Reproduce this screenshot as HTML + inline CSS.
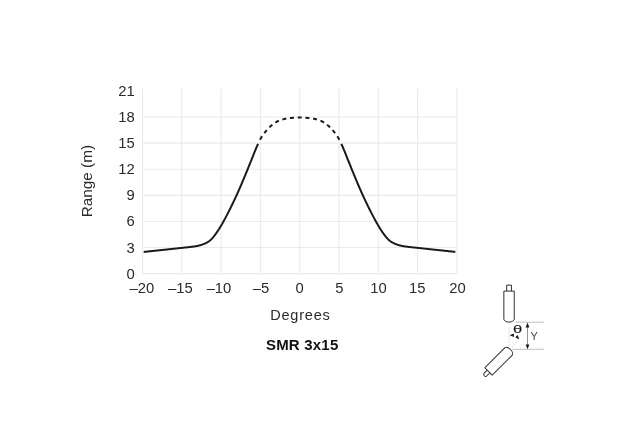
<!DOCTYPE html>
<html><head><meta charset="utf-8"><style>
html,body{margin:0;padding:0;background:#fff;}
body{width:631px;height:444px;overflow:hidden;position:relative;}
svg{position:absolute;left:0;top:0;will-change:transform;}
text{font-family:"Liberation Sans",Arial,sans-serif;}
</style></head><body>
<svg width="631" height="444" viewBox="0 0 631 444">
<rect width="631" height="444" fill="#fff"/>
<g stroke="#eaeaea" stroke-width="1.1" fill="none">
<line x1="142.50" y1="88.5" x2="142.50" y2="273.65"/>
<line x1="181.80" y1="88.5" x2="181.80" y2="273.65"/>
<line x1="221.10" y1="88.5" x2="221.10" y2="273.65"/>
<line x1="260.40" y1="88.5" x2="260.40" y2="273.65"/>
<line x1="299.70" y1="88.5" x2="299.70" y2="273.65"/>
<line x1="339.00" y1="88.5" x2="339.00" y2="273.65"/>
<line x1="378.30" y1="88.5" x2="378.30" y2="273.65"/>
<line x1="417.60" y1="88.5" x2="417.60" y2="273.65"/>
<line x1="456.90" y1="88.5" x2="456.90" y2="273.65"/>
<line x1="142.50" y1="273.65" x2="456.90" y2="273.65"/>
<line x1="142.50" y1="247.55" x2="456.90" y2="247.55"/>
<line x1="142.50" y1="221.45" x2="456.90" y2="221.45"/>
<line x1="142.50" y1="195.35" x2="456.90" y2="195.35"/>
<line x1="142.50" y1="169.25" x2="456.90" y2="169.25"/>
<line x1="142.50" y1="143.15" x2="456.90" y2="143.15"/>
<line x1="142.50" y1="117.05" x2="456.90" y2="117.05"/>
</g>
<g fill="none" stroke="#1a1a1a" stroke-width="2" stroke-linejoin="round">
<path d="M143.68,251.94 L144.07,251.90 L144.47,251.86 L144.86,251.82 L145.25,251.77 L145.64,251.73 L146.04,251.69 L146.43,251.65 L146.82,251.61 L147.22,251.57 L147.61,251.52 L148.00,251.48 L148.40,251.44 L148.79,251.40 L149.18,251.36 L149.57,251.32 L149.97,251.28 L150.36,251.23 L150.75,251.19 L151.15,251.15 L151.54,251.11 L151.93,251.07 L152.33,251.03 L152.72,250.98 L153.11,250.94 L153.50,250.90 L153.90,250.86 L154.29,250.82 L154.68,250.78 L155.08,250.74 L155.47,250.69 L155.86,250.65 L156.26,250.61 L156.65,250.57 L157.04,250.53 L157.43,250.49 L157.83,250.45 L158.22,250.40 L158.61,250.36 L159.01,250.32 L159.40,250.28 L159.79,250.24 L160.19,250.20 L160.58,250.15 L160.97,250.11 L161.36,250.07 L161.76,250.03 L162.15,249.99 L162.54,249.94 L162.94,249.90 L163.33,249.86 L163.72,249.82 L164.12,249.77 L164.51,249.73 L164.90,249.69 L165.29,249.65 L165.69,249.61 L166.08,249.56 L166.47,249.52 L166.87,249.48 L167.26,249.44 L167.65,249.39 L168.05,249.35 L168.44,249.31 L168.83,249.27 L169.22,249.22 L169.62,249.18 L170.01,249.14 L170.40,249.10 L170.80,249.05 L171.19,249.01 L171.58,248.97 L171.98,248.93 L172.37,248.88 L172.76,248.84 L173.15,248.80 L173.55,248.76 L173.94,248.71 L174.33,248.67 L174.73,248.63 L175.12,248.59 L175.51,248.54 L175.91,248.50 L176.30,248.46 L176.69,248.42 L177.08,248.38 L177.48,248.33 L177.87,248.29 L178.26,248.25 L178.66,248.21 L179.05,248.17 L179.44,248.13 L179.84,248.08 L180.23,248.04 L180.62,248.00 L181.01,247.96 L181.41,247.92 L181.80,247.88 L182.19,247.84 L182.59,247.80 L182.98,247.76 L183.37,247.72 L183.77,247.67 L184.16,247.63 L184.55,247.59 L184.94,247.55 L185.34,247.51 L185.73,247.47 L186.12,247.42 L186.52,247.38 L186.91,247.34 L187.30,247.29 L187.70,247.25 L188.09,247.21 L188.48,247.16 L188.87,247.12 L189.27,247.07 L189.66,247.03 L190.05,246.98 L190.45,246.94 L190.84,246.89 L191.23,246.85 L191.63,246.80 L192.02,246.75 L192.41,246.70 L192.80,246.66 L193.20,246.61 L193.59,246.56 L193.98,246.50 L194.38,246.45 L194.77,246.39 L195.16,246.34 L195.56,246.28 L195.95,246.21 L196.34,246.14 L196.73,246.07 L197.13,246.00 L197.52,245.92 L197.91,245.83 L198.31,245.74 L198.70,245.65 L199.09,245.55 L199.49,245.44 L199.88,245.33 L200.27,245.22 L200.66,245.10 L201.06,244.97 L201.45,244.84 L201.84,244.71 L202.24,244.57 L202.63,244.43 L203.02,244.28 L203.42,244.13 L203.81,243.98 L204.20,243.82 L204.59,243.65 L204.99,243.48 L205.38,243.30 L205.77,243.12 L206.17,242.92 L206.56,242.72 L206.95,242.51 L207.35,242.28 L207.74,242.05 L208.13,241.80 L208.52,241.54 L208.92,241.27 L209.31,240.98 L209.70,240.67 L210.10,240.35 L210.49,240.01 L210.88,239.66 L211.28,239.28 L211.67,238.89 L212.06,238.48 L212.45,238.06 L212.85,237.61 L213.24,237.15 L213.63,236.67 L214.03,236.18 L214.42,235.67 L214.81,235.15 L215.21,234.62 L215.60,234.07 L215.99,233.52 L216.38,232.96 L216.78,232.40 L217.17,231.82 L217.56,231.24 L217.96,230.66 L218.35,230.06 L218.74,229.46 L219.14,228.86 L219.53,228.24 L219.92,227.61 L220.31,226.97 L220.71,226.32 L221.10,225.67 L221.49,225.00 L221.89,224.32 L222.28,223.63 L222.67,222.94 L223.07,222.24 L223.46,221.53 L223.85,220.81 L224.24,220.09 L224.64,219.36 L225.03,218.63 L225.42,217.89 L225.82,217.15 L226.21,216.40 L226.60,215.65 L227.00,214.90 L227.39,214.14 L227.78,213.38 L228.17,212.62 L228.57,211.85 L228.96,211.08 L229.35,210.30 L229.75,209.52 L230.14,208.73 L230.53,207.94 L230.93,207.15 L231.32,206.36 L231.71,205.56 L232.10,204.75 L232.50,203.94 L232.89,203.13 L233.28,202.31 L233.68,201.49 L234.07,200.67 L234.46,199.84 L234.86,199.00 L235.25,198.17 L235.64,197.32 L236.03,196.47 L236.43,195.62 L236.82,194.76 L237.21,193.89 L237.61,193.02 L238.00,192.14 L238.39,191.26 L238.79,190.37 L239.18,189.47 L239.57,188.57 L239.96,187.66 L240.36,186.75 L240.75,185.83 L241.14,184.91 L241.54,183.99 L241.93,183.06 L242.32,182.12 L242.72,181.18 L243.11,180.24 L243.50,179.30 L243.89,178.36 L244.29,177.41 L244.68,176.46 L245.07,175.51 L245.47,174.56 L245.86,173.61 L246.25,172.66 L246.65,171.70 L247.04,170.75 L247.43,169.79 L247.82,168.83 L248.22,167.86 L248.61,166.89 L249.00,165.92 L249.40,164.95 L249.79,163.97 L250.18,162.99 L250.58,162.00 L250.97,161.02 L251.36,160.03 L251.75,159.04 L252.15,158.05 L252.54,157.07 L252.93,156.08 L253.33,155.10 L253.72,154.12 L254.11,153.14 L254.51,152.17 L254.90,151.21 L255.29,150.26 L255.68,149.31 L256.08,148.37 L256.47,147.44 L256.86,146.52 L257.26,145.62 L257.65,144.73 L258.04,143.86"/>
<path d="M341.36,143.86 L341.75,144.73 L342.14,145.62 L342.54,146.52 L342.93,147.44 L343.32,148.37 L343.72,149.31 L344.11,150.26 L344.50,151.21 L344.90,152.17 L345.29,153.14 L345.68,154.12 L346.07,155.10 L346.47,156.08 L346.86,157.07 L347.25,158.05 L347.65,159.04 L348.04,160.03 L348.43,161.02 L348.83,162.00 L349.22,162.99 L349.61,163.97 L350.00,164.95 L350.40,165.92 L350.79,166.89 L351.18,167.86 L351.58,168.83 L351.97,169.79 L352.36,170.75 L352.76,171.70 L353.15,172.66 L353.54,173.61 L353.93,174.56 L354.33,175.51 L354.72,176.46 L355.11,177.41 L355.51,178.36 L355.90,179.30 L356.29,180.24 L356.69,181.18 L357.08,182.12 L357.47,183.06 L357.86,183.99 L358.26,184.91 L358.65,185.83 L359.04,186.75 L359.44,187.66 L359.83,188.57 L360.22,189.47 L360.62,190.37 L361.01,191.26 L361.40,192.14 L361.79,193.02 L362.19,193.89 L362.58,194.76 L362.97,195.62 L363.37,196.47 L363.76,197.32 L364.15,198.17 L364.55,199.00 L364.94,199.84 L365.33,200.67 L365.72,201.49 L366.12,202.31 L366.51,203.13 L366.90,203.94 L367.30,204.75 L367.69,205.56 L368.08,206.36 L368.48,207.15 L368.87,207.94 L369.26,208.73 L369.65,209.52 L370.05,210.30 L370.44,211.08 L370.83,211.85 L371.23,212.62 L371.62,213.38 L372.01,214.14 L372.41,214.90 L372.80,215.65 L373.19,216.40 L373.58,217.15 L373.98,217.89 L374.37,218.63 L374.76,219.36 L375.16,220.09 L375.55,220.81 L375.94,221.53 L376.34,222.24 L376.73,222.94 L377.12,223.63 L377.51,224.32 L377.91,225.00 L378.30,225.67 L378.69,226.32 L379.09,226.97 L379.48,227.61 L379.87,228.24 L380.27,228.86 L380.66,229.46 L381.05,230.06 L381.44,230.66 L381.84,231.24 L382.23,231.82 L382.62,232.40 L383.02,232.96 L383.41,233.52 L383.80,234.07 L384.20,234.62 L384.59,235.15 L384.98,235.67 L385.37,236.18 L385.77,236.67 L386.16,237.15 L386.55,237.61 L386.95,238.06 L387.34,238.48 L387.73,238.89 L388.13,239.28 L388.52,239.66 L388.91,240.01 L389.30,240.35 L389.70,240.67 L390.09,240.98 L390.48,241.27 L390.88,241.54 L391.27,241.80 L391.66,242.05 L392.06,242.28 L392.45,242.51 L392.84,242.72 L393.23,242.92 L393.63,243.12 L394.02,243.30 L394.41,243.48 L394.81,243.65 L395.20,243.82 L395.59,243.98 L395.99,244.13 L396.38,244.28 L396.77,244.43 L397.16,244.57 L397.56,244.71 L397.95,244.84 L398.34,244.97 L398.74,245.10 L399.13,245.22 L399.52,245.33 L399.92,245.44 L400.31,245.55 L400.70,245.65 L401.09,245.74 L401.49,245.83 L401.88,245.92 L402.27,246.00 L402.67,246.07 L403.06,246.14 L403.45,246.21 L403.85,246.28 L404.24,246.34 L404.63,246.39 L405.02,246.45 L405.42,246.50 L405.81,246.56 L406.20,246.61 L406.60,246.66 L406.99,246.70 L407.38,246.75 L407.78,246.80 L408.17,246.85 L408.56,246.89 L408.95,246.94 L409.35,246.98 L409.74,247.03 L410.13,247.07 L410.53,247.12 L410.92,247.16 L411.31,247.21 L411.71,247.25 L412.10,247.29 L412.49,247.34 L412.88,247.38 L413.28,247.42 L413.67,247.47 L414.06,247.51 L414.46,247.55 L414.85,247.59 L415.24,247.63 L415.64,247.67 L416.03,247.72 L416.42,247.76 L416.81,247.80 L417.21,247.84 L417.60,247.88 L417.99,247.92 L418.39,247.96 L418.78,248.00 L419.17,248.04 L419.57,248.08 L419.96,248.13 L420.35,248.17 L420.74,248.21 L421.14,248.25 L421.53,248.29 L421.92,248.33 L422.32,248.38 L422.71,248.42 L423.10,248.46 L423.50,248.50 L423.89,248.54 L424.28,248.59 L424.67,248.63 L425.07,248.67 L425.46,248.71 L425.85,248.76 L426.25,248.80 L426.64,248.84 L427.03,248.88 L427.43,248.93 L427.82,248.97 L428.21,249.01 L428.60,249.05 L429.00,249.10 L429.39,249.14 L429.78,249.18 L430.18,249.22 L430.57,249.27 L430.96,249.31 L431.36,249.35 L431.75,249.39 L432.14,249.44 L432.53,249.48 L432.93,249.52 L433.32,249.56 L433.71,249.61 L434.11,249.65 L434.50,249.69 L434.89,249.73 L435.29,249.77 L435.68,249.82 L436.07,249.86 L436.46,249.90 L436.86,249.94 L437.25,249.99 L437.64,250.03 L438.04,250.07 L438.43,250.11 L438.82,250.15 L439.22,250.20 L439.61,250.24 L440.00,250.28 L440.39,250.32 L440.79,250.36 L441.18,250.40 L441.57,250.45 L441.97,250.49 L442.36,250.53 L442.75,250.57 L443.15,250.61 L443.54,250.65 L443.93,250.69 L444.32,250.74 L444.72,250.78 L445.11,250.82 L445.50,250.86 L445.90,250.90 L446.29,250.94 L446.68,250.98 L447.08,251.03 L447.47,251.07 L447.86,251.11 L448.25,251.15 L448.65,251.19 L449.04,251.23 L449.43,251.28 L449.83,251.32 L450.22,251.36 L450.61,251.40 L451.01,251.44 L451.40,251.48 L451.79,251.52 L452.18,251.57 L452.58,251.61 L452.97,251.65 L453.36,251.69 L453.76,251.73 L454.15,251.77 L454.54,251.82 L454.94,251.86 L455.33,251.90"/>
<path d="M258.44,143.00 L258.83,142.16 L259.22,141.35 L259.61,140.56 L260.01,139.79 L260.40,139.05 L260.79,138.34 L261.19,137.66 L261.58,137.00 L261.97,136.37 L262.37,135.77 L262.76,135.19 L263.15,134.63 L263.54,134.09 L263.94,133.56 L264.33,133.06 L264.72,132.56 L265.12,132.08 L265.51,131.61 L265.90,131.14 L266.30,130.69 L266.69,130.24 L267.08,129.80 L267.47,129.37 L267.87,128.95 L268.26,128.53 L268.65,128.12 L269.05,127.73 L269.44,127.34 L269.83,126.96 L270.23,126.59 L270.62,126.23 L271.01,125.87 L271.40,125.53 L271.80,125.20 L272.19,124.87 L272.58,124.55 L272.98,124.25 L273.37,123.95 L273.76,123.65 L274.16,123.37 L274.55,123.10 L274.94,122.83 L275.33,122.57 L275.73,122.33 L276.12,122.09 L276.51,121.87 L276.91,121.65 L277.30,121.44 L277.69,121.25 L278.09,121.06 L278.48,120.88 L278.87,120.71 L279.26,120.54 L279.66,120.39 L280.05,120.24 L280.44,120.09 L280.84,119.96 L281.23,119.83 L281.62,119.70 L282.02,119.58 L282.41,119.47 L282.80,119.36 L283.19,119.25 L283.59,119.16 L283.98,119.06 L284.37,118.98 L284.77,118.89 L285.16,118.81 L285.55,118.74 L285.95,118.67 L286.34,118.60 L286.73,118.54 L287.12,118.48 L287.52,118.42 L287.91,118.36 L288.30,118.31 L288.70,118.26 L289.09,118.21 L289.48,118.16 L289.88,118.12 L290.27,118.08 L290.66,118.04 L291.05,118.00 L291.45,117.96 L291.84,117.93 L292.23,117.89 L292.63,117.86 L293.02,117.83 L293.41,117.80 L293.81,117.77 L294.20,117.74 L294.59,117.72 L294.98,117.69 L295.38,117.67 L295.77,117.64 L296.16,117.62 L296.56,117.60 L296.95,117.58 L297.34,117.57 L297.74,117.55 L298.13,117.54 L298.52,117.53 L298.91,117.53 L299.31,117.52 L299.70,117.52 L300.09,117.52 L300.49,117.53 L300.88,117.53 L301.27,117.54 L301.67,117.55 L302.06,117.57 L302.45,117.58 L302.84,117.60 L303.24,117.62 L303.63,117.64 L304.02,117.67 L304.42,117.69 L304.81,117.72 L305.20,117.74 L305.60,117.77 L305.99,117.80 L306.38,117.83 L306.77,117.86 L307.17,117.89 L307.56,117.93 L307.95,117.96 L308.35,118.00 L308.74,118.04 L309.13,118.08 L309.53,118.12 L309.92,118.16 L310.31,118.21 L310.70,118.26 L311.10,118.31 L311.49,118.36 L311.88,118.42 L312.28,118.48 L312.67,118.54 L313.06,118.60 L313.46,118.67 L313.85,118.74 L314.24,118.81 L314.63,118.89 L315.03,118.98 L315.42,119.06 L315.81,119.16 L316.21,119.25 L316.60,119.36 L316.99,119.47 L317.39,119.58 L317.78,119.70 L318.17,119.83 L318.56,119.96 L318.96,120.09 L319.35,120.24 L319.74,120.39 L320.14,120.54 L320.53,120.71 L320.92,120.88 L321.32,121.06 L321.71,121.25 L322.10,121.44 L322.49,121.65 L322.89,121.87 L323.28,122.09 L323.67,122.33 L324.07,122.57 L324.46,122.83 L324.85,123.10 L325.25,123.37 L325.64,123.65 L326.03,123.95 L326.42,124.25 L326.82,124.55 L327.21,124.87 L327.60,125.20 L328.00,125.53 L328.39,125.87 L328.78,126.23 L329.18,126.59 L329.57,126.96 L329.96,127.34 L330.35,127.73 L330.75,128.12 L331.14,128.53 L331.53,128.95 L331.93,129.37 L332.32,129.80 L332.71,130.24 L333.11,130.69 L333.50,131.14 L333.89,131.61 L334.28,132.08 L334.68,132.56 L335.07,133.06 L335.46,133.56 L335.86,134.09 L336.25,134.63 L336.64,135.19 L337.04,135.77 L337.43,136.37 L337.82,137.00 L338.21,137.66 L338.61,138.34 L339.00,139.05 L339.39,139.79 L339.79,140.56 L340.18,141.35 L340.57,142.16 L340.97,143.00" stroke-dasharray="4.000 3.722" stroke-dashoffset="4.000"/>
</g>
<g font-size="14.8" fill="#2b2b2b" text-anchor="end">
<text x="134.8" y="278.65">0</text>
<text x="134.8" y="252.55">3</text>
<text x="134.8" y="226.45">6</text>
<text x="134.8" y="200.35">9</text>
<text x="134.8" y="174.25">12</text>
<text x="134.8" y="148.15">15</text>
<text x="134.8" y="122.05">18</text>
<text x="134.8" y="95.95">21</text>
</g>
<g font-size="14.8" fill="#2b2b2b" text-anchor="middle">
<text x="141.80" y="293.45">–20</text>
<text x="180.40" y="293.45">–15</text>
<text x="219.00" y="293.45">–10</text>
<text x="261.10" y="293.45">–5</text>
<text x="299.70" y="293.45">0</text>
<text x="339.30" y="293.45">5</text>
<text x="378.55" y="293.45">10</text>
<text x="417.35" y="293.45">15</text>
<text x="457.60" y="293.45">20</text>
</g>
<text x="92.2" y="181.1" font-size="15.3" fill="#2b2b2b" text-anchor="middle" transform="rotate(-90 92.2 181.1)">Range (m)</text>
<text x="300.4" y="319.7" font-size="14.5" fill="#2b2b2b" text-anchor="middle" letter-spacing="0.8">Degrees</text>
<text x="302.2" y="349.7" font-size="15" font-weight="bold" fill="#111" text-anchor="middle" letter-spacing="0.2">SMR 3x15</text>
<g fill="none" stroke="#262626" stroke-width="0.95">
<g transform="translate(509.05,322.1)">
<path d="M-5.20,-31.00 L5.20,-31.00 L5.20,-3.00 A5.20,3.00 0 0 1 -5.20,-3.00 Z" fill="#fff"/>
<path d="M-2.35,-31.00 L-2.35,-37.00 L2.35,-37.00 L2.35,-31.00"/>
</g>
<g transform="translate(510.5,349.5) rotate(-135)">
<path d="M-5.20,-31.00 L5.20,-31.00 L5.20,-3.00 A5.20,3.00 0 0 1 -5.20,-3.00 Z" fill="#fff"/>
<path d="M-1.9,-31 L-1.9,-35.2 A1.9,1.9 0 0 1 1.9,-35.2 L1.9,-31"/>
</g>
</g>
<g fill="none">
<line x1="515.6" y1="322.2" x2="544" y2="322.2" stroke="#a8a8a8" stroke-width="0.7"/>
<line x1="512" y1="349.3" x2="544" y2="349.3" stroke="#a8a8a8" stroke-width="0.7"/>
<line x1="527.5" y1="326" x2="527.5" y2="346" stroke="#666" stroke-width="0.7"/>
<line x1="509.1" y1="327.5" x2="509.1" y2="347" stroke="#b5b5b5" stroke-width="0.7" stroke-dasharray="1.2 1.6"/>
<line x1="512" y1="347" x2="517.5" y2="341.5" stroke="#b5b5b5" stroke-width="0.7" stroke-dasharray="1.2 1.6"/>
</g>
<g fill="#1a1a1a" stroke="none">
<path d="M527.5,322.4 L525.6,327.6 L529.4,327.6 Z"/>
<path d="M527.5,349.2 L525.6,344.6 L529.4,344.6 Z"/>
<path d="M509.6,335.3 L513.9,333.6 L513.9,336.9 Z"/>
<path d="M519.3,339.6 L515.2,337.2 L517.7,334.9 Z"/>
</g>
<text transform="translate(517.6,333.3) scale(1.45,1)" font-size="11.5" fill="#1a1a1a" stroke="#1a1a1a" stroke-width="0.15" text-anchor="middle">θ</text>
<text x="534.2" y="339.7" font-size="11" fill="#484848" text-anchor="middle">Y</text>
</svg>
</body></html>
